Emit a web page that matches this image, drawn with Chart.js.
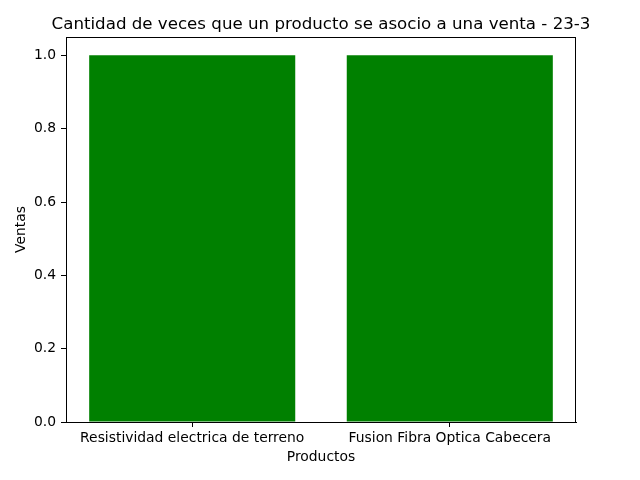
<!DOCTYPE html>
<html>
<head>
<meta charset="utf-8">
<script src="https://cdn.jsdelivr.net/npm/chart.js@4/dist/chart.umd.min.js"></script>
<style>
html,body{margin:0;padding:0;background:#fff;}
#wrap{width:640px;height:480px;position:relative;}
</style>
</head>
<body>
<div id="wrap"><canvas id="c" width="640" height="480"></canvas></div>
<script>
const categories = ["Resistividad electrica de terreno", "Fusion Fibra Optica Cabecera"];
const ventas = [1, 1];
const yTicks = [0.0, 0.2, 0.4, 0.6, 0.8, 1.0];
const titleText = "Cantidad de veces que un producto se asocio a una venta - 23-3";

const FONT = "'DejaVu Sans', sans-serif";
const FS = 13.89;

const frameAndTitle = {
  id: 'frameAndTitle',
  afterLayout(chart) {
    const s = chart.scales.x;
    s._startValue = -0.49;
    s._valueRange = 1.98;
  },
  afterDatasetsDraw(chart) {
    const a = chart.chartArea, ctx = chart.ctx;
    ctx.save();
    ctx.strokeStyle = '#000';
    ctx.lineWidth = 1;
    ctx.strokeRect(Math.round(a.left) + 0.5, Math.round(a.top) + 0.5,
                   Math.round(a.right - a.left) - 1, Math.round(a.bottom - a.top) - 0);
    ctx.fillStyle = '#000';
    ctx.font = "16.67px " + FONT;
    ctx.textAlign = 'center';
    ctx.textBaseline = 'alphabetic';
    ctx.fillText(titleText, (a.left + a.right) / 2, 29);
    ctx.restore();
  }
};

new Chart(document.getElementById('c'), {
  type: 'bar',
  data: {
    labels: categories,
    datasets: [{
      data: ventas,
      backgroundColor: '#008000',
      borderColor: '#008000',
      borderWidth: 0,
      categoryPercentage: 1.0,
      barPercentage: 0.8
    }]
  },
  options: {
    responsive: false,
    animation: false,
    devicePixelRatio: 1,
    layout: {padding: {left: 0, right: 64, top: 37, bottom: 0}},
    plugins: {
      legend: {display: false},
      tooltip: {enabled: false},
      title: {display: false}
    },
    scales: {
      x: {
        type: 'category',
        offset: true,
        afterFit: s => { s.height = 58; },
        ticks: {
          color: '#000',
          font: {family: FONT, size: FS},
          padding: 3,
          maxRotation: 0,
          autoSkip: false
        },
        grid: {display: true, offset: false, drawOnChartArea: false, drawTicks: true, tickLength: 5, color: '#000'},
        border: {display: true, color: '#000'},
        title: {display: true, text: 'Productos', color: '#000', font: {family: FONT, size: FS}, padding: {top: 0, bottom: 14.5}}
      },
      y: {
        min: 0,
        max: 1.05,
        afterBuildTicks: s => { s.ticks = yTicks.map(v => ({value: v})); },
        afterFit: s => { s.width = 66; },
        ticks: {
          color: '#000',
          font: {family: FONT, size: FS},
          padding: 5,
          callback: v => Number(v).toFixed(1)
        },
        grid: {display: true, drawOnChartArea: false, drawTicks: true, tickLength: 5, color: '#000'},
        border: {display: true, color: '#000'},
        title: {display: true, text: 'Ventas', color: '#000', font: {family: FONT, size: FS}, padding: {top: 12.7, bottom: 0}}
      }
    }
  },
  plugins: [frameAndTitle]
});
</script>
</body>
</html>
